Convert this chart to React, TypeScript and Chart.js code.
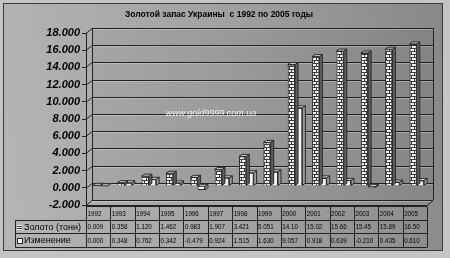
import React, { useEffect, useRef } from "react";
import { Chart, registerables } from "chart.js";

Chart.register(...registerables);

// ---- data ----
const years = ["1992", "1993", "1994", "1995", "1996", "1997", "1998", "1999", "2000", "2001", "2002", "2003", "2004", "2005"];
const goldTons = [0.009, 0.358, 1.12, 1.462, 0.983, 1.907, 3.421, 5.051, 14.1, 15.02, 15.66, 15.45, 15.89, 16.5];
const changeTons = [0.0, 0.348, 0.762, 0.342, -0.479, 0.924, 1.515, 1.63, 9.057, 0.918, 0.639, -0.21, 0.435, 0.61];
const goldLabels = ["0.009", "0.358", "1.120", "1.462", "0.983", "1.907", "3.421", "5.051", "14.10", "15.02", "15.66", "15.45", "15.89", "16.50"];
const changeLabels = ["0.000", "0.348", "0.762", "0.342", "-0.479", "0.924", "1.515", "1.630", "9.057", "0.918", "0.639", "-0.210", "0.435", "0.610"];
const seriesNames = ["Золото (тонн)", "Изменение"];
const yMin = -2;
const yMax = 18;
const yStep = 2;
const titleText = "Золотой запас Украины  с 1992 по 2005 годы";
const watermarkText = "www.gold9999.com.ua";

const FONT = "Arial, 'Liberation Sans', sans-serif";
const WALL_DX = 6;
const WALL_DY = 5;
const BAR_DX = 3;
const BAR_DY = 2;

function makeBrick(): CanvasPattern | string {
  const p = document.createElement("canvas");
  p.width = 10;
  p.height = 6;
  const c = p.getContext("2d");
  if (!c) return "#dddddd";
  c.fillStyle = "#3a3a3a";
  c.fillRect(0, 0, 10, 6);
  c.fillStyle = "#f2f2f2";
  c.fillRect(0, 0, 4, 2);
  c.fillRect(5, 0, 4, 2);
  c.fillRect(0, 3, 2, 2);
  c.fillRect(3, 3, 4, 2);
  c.fillRect(8, 3, 2, 2);
  return c.createPattern(p, "repeat") || "#dddddd";
}

const backgroundPlugin = {
  id: "bgFrame",
  beforeDraw(chart: any) {
    const { ctx, width, height } = chart;
    ctx.save();
    ctx.fillStyle = "#c4c4c4";
    ctx.fillRect(0, 0, width, height);
    const g = ctx.createLinearGradient(0, 120, width, 60);
    g.addColorStop(0, "#b4b4b4");
    g.addColorStop(0.5, "#a2a2a2");
    g.addColorStop(1, "#888888");
    ctx.fillStyle = g;
    ctx.fillRect(3.5, 3.5, width - 11, height - 11);
    ctx.strokeStyle = "#3c3c3c";
    ctx.lineWidth = 1;
    ctx.strokeRect(3.5, 3.5, width - 11, height - 11);
    // title
    ctx.fillStyle = "#000";
    ctx.font = `bold 8.5px ${FONT}`;
    ctx.textAlign = "center";
    ctx.textBaseline = "middle";
    ctx.fillText(titleText, 219, 15);
    ctx.restore();
  },
};

const wallPlugin = {
  id: "wall3d",
  beforeDatasetsDraw(chart: any) {
    const { ctx, chartArea } = chart;
    const ys = chart.scales.y;
    const { left, right, top, bottom } = chartArea;
    ctx.save();
    ctx.fillStyle = "rgba(0,0,0,0.04)";
    ctx.fillRect(left + WALL_DX, top - WALL_DY, right - left, bottom - top);
    ctx.lineWidth = 1;
    for (let v = yMin; v <= yMax + 1e-9; v += yStep) {
      const y = Math.round(ys.getPixelForValue(v)) + 0.5;
      ctx.strokeStyle = "rgba(255,255,255,0.25)";
      ctx.beginPath();
      ctx.moveTo(left + WALL_DX, y - WALL_DY + 1);
      ctx.lineTo(right + WALL_DX, y - WALL_DY + 1);
      ctx.stroke();
      ctx.strokeStyle = "#222";
      ctx.beginPath();
      ctx.moveTo(left, y);
      ctx.lineTo(left + WALL_DX, y - WALL_DY);
      ctx.lineTo(right + WALL_DX, y - WALL_DY);
      ctx.stroke();
    }
    ctx.strokeStyle = "#222";
    ctx.beginPath();
    ctx.moveTo(left + WALL_DX + 0.5, top - WALL_DY);
    ctx.lineTo(left + WALL_DX + 0.5, bottom - WALL_DY);
    ctx.moveTo(right + WALL_DX + 0.5, top - WALL_DY);
    ctx.lineTo(right + WALL_DX + 0.5, bottom - WALL_DY);
    ctx.moveTo(right + WALL_DX, bottom - WALL_DY + 0.5);
    ctx.lineTo(right, bottom + 0.5);
    ctx.lineTo(left, bottom + 0.5);
    ctx.stroke();
    // watermark
    ctx.fillStyle = "rgba(255,255,255,0.85)";
    ctx.font = `italic 9px ${FONT}`;
    ctx.textAlign = "center";
    ctx.textBaseline = "middle";
    ctx.fillText(watermarkText, 211, 113);
    // depth shift for bars
    ctx.translate(2, -BAR_DY);
  },
  afterDatasetDraw(chart: any, args: any) {
    const { ctx } = chart;
    const meta = args.meta;
    const isGold = args.index === 0;
    ctx.save();
    ctx.lineWidth = 1;
    ctx.strokeStyle = "#2a2a2a";
    for (const el of meta.data) {
      const p = el.getProps(["x", "y", "base", "width"], true);
      const l = p.x - p.width / 2;
      const r = p.x + p.width / 2;
      const t = Math.min(p.y, p.base);
      const b = Math.max(p.y, p.base);
      ctx.fillStyle = isGold ? "#5e5e5e" : "#9a9a9a";
      ctx.beginPath();
      ctx.moveTo(r, t);
      ctx.lineTo(r + BAR_DX, t - BAR_DY);
      ctx.lineTo(r + BAR_DX, b - BAR_DY);
      ctx.lineTo(r, b);
      ctx.closePath();
      ctx.fill();
      ctx.stroke();
      ctx.fillStyle = isGold ? "#d0d0d0" : "#e4e4e4";
      ctx.beginPath();
      ctx.moveTo(l, t);
      ctx.lineTo(l + BAR_DX, t - BAR_DY);
      ctx.lineTo(r + BAR_DX, t - BAR_DY);
      ctx.lineTo(r, t);
      ctx.closePath();
      ctx.fill();
      ctx.stroke();
    }
    ctx.restore();
  },
  afterDatasetsDraw(chart: any) {
    chart.ctx.restore();
  },
};

function drawNarrow(ctx: CanvasRenderingContext2D, text: string, x: number, y: number, sx: number) {
  ctx.save();
  ctx.translate(x, y);
  ctx.scale(sx, 1);
  ctx.fillText(text, 0, 0);
  ctx.restore();
}

const tablePlugin = {
  id: "dataTable",
  afterDraw(chart: any) {
    const { ctx, chartArea } = chart;
    const xs = chart.scales.x;
    const { left, right, bottom } = chartArea;
    const n = years.length;
    const cw = (right - left) / n;
    const rowH = 13.7;
    const t0 = bottom + 1;
    const legendLeft = 15.5;
    const rows = [t0, t0 + rowH, t0 + 2 * rowH, t0 + 3 * rowH];
    ctx.save();
    ctx.strokeStyle = "#222";
    ctx.lineWidth = 1;
    ctx.beginPath();
    ctx.moveTo(left, Math.round(rows[0]) + 0.5);
    ctx.lineTo(right, Math.round(rows[0]) + 0.5);
    for (let i = 1; i < 4; i++) {
      const y = Math.round(rows[i]) + 0.5;
      ctx.moveTo(legendLeft, y);
      ctx.lineTo(right, y);
    }
    for (let i = 0; i <= n; i++) {
      const cx = i < n ? xs.getPixelForValue(i) - cw / 2 : xs.getPixelForValue(n - 1) + cw / 2;
      const x = Math.round(cx) + 0.5;
      ctx.moveTo(x, Math.round(rows[0]) + 0.5);
      ctx.lineTo(x, Math.round(rows[3]) + 0.5);
    }
    ctx.moveTo(legendLeft, Math.round(rows[1]) + 0.5);
    ctx.lineTo(legendLeft, Math.round(rows[3]) + 0.5);
    ctx.stroke();

    ctx.fillStyle = "#000";
    ctx.textAlign = "left";
    ctx.textBaseline = "middle";
    ctx.font = `8px ${FONT}`;
    const rowsText = [years, goldLabels, changeLabels];
    for (let r = 0; r < 3; r++) {
      const yMid = rows[r] + rowH / 2 + 0.5;
      for (let i = 0; i < n; i++) {
        const x0 = xs.getPixelForValue(i) - cw / 2 + 1.5;
        drawNarrow(ctx, rowsText[r][i], x0, yMid, 0.78);
      }
    }
    ctx.font = `9px ${FONT}`;
    for (let r = 0; r < 2; r++) {
      const yMid = rows[r + 1] + rowH / 2 + 0.5;
      const kx = 17;
      const ky = Math.round(yMid - 2.5);
      if (r === 0) {
        ctx.fillStyle = "#3a3a3a";
        ctx.fillRect(kx, ky, 5, 5);
        ctx.fillStyle = "#f2f2f2";
        ctx.fillRect(kx, ky, 5, 1);
        ctx.fillRect(kx, ky + 2, 5, 1);
        ctx.fillRect(kx, ky + 4, 5, 1);
      } else {
        ctx.fillStyle = "#f4f4f4";
        ctx.fillRect(kx, ky, 5, 5);
        ctx.strokeStyle = "#2a2a2a";
        ctx.strokeRect(kx + 0.5, ky + 0.5, 5, 5);
      }
      ctx.fillStyle = "#000";
      ctx.fillText(seriesNames[r], 24, yMid);
    }
    ctx.restore();
  },
};

export default function App() {
  const ref = useRef<HTMLCanvasElement>(null);
  useEffect(() => {
    const canvas = ref.current;
    if (!canvas) return;
    const brick = makeBrick();
    const chart = new Chart(canvas, {
      type: "bar",
      data: {
        labels: years,
        datasets: [
          {
            label: seriesNames[0],
            data: goldTons,
            backgroundColor: brick as any,
            borderColor: "#2a2a2a",
            borderWidth: 1,
          },
          {
            label: seriesNames[1],
            data: changeTons,
            backgroundColor: "#f4f4f4",
            borderColor: "#2a2a2a",
            borderWidth: 1,
          },
        ],
      },
      options: {
        responsive: false,
        animation: false,
        devicePixelRatio: 1,
        layout: { padding: { left: 0, top: 33, right: 23, bottom: 53 } },
        plugins: {
          legend: { display: false },
          tooltip: { enabled: false },
          title: { display: false },
        },
        datasets: { bar: { categoryPercentage: 0.6, barPercentage: 1 } },
        scales: {
          x: { display: false },
          y: {
            min: yMin,
            max: yMax,
            afterFit: (s: any) => {
              s.width = 86;
            },
            ticks: {
              stepSize: yStep,
              color: "#000",
              padding: 2,
              font: { family: FONT, size: 11, weight: "bold", style: "italic" },
              callback: (v: any) => Number(v).toFixed(3),
            },
            grid: { drawOnChartArea: false, drawTicks: true, tickLength: 4, color: "#222" },
            border: { display: true, color: "#222" },
          },
        },
      },
      plugins: [backgroundPlugin, wallPlugin, tablePlugin],
    } as any);
    return () => chart.destroy();
  }, []);
  return (
    <div style={{ position: "absolute", left: 0, top: 0, width: 450, height: 258 }}>
      <canvas ref={ref} width={450} height={258} style={{ display: "block", width: 450, height: 258 }} />
    </div>
  );
}
